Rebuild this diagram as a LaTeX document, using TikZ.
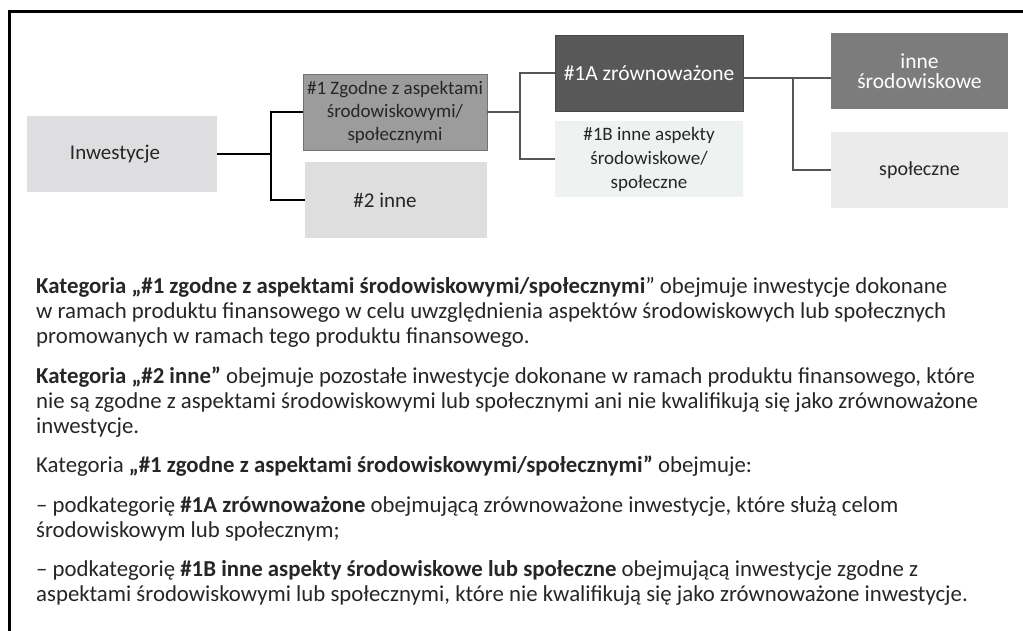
\documentclass[tikz,border=0pt]{standalone}
\usepackage{fontspec}
\setmainfont{Carlito}
\definecolor{inkgray}{HTML}{262626}
\definecolor{rootfill}{HTML}{DEDEE0}
\definecolor{zgfill}{HTML}{9C9C9C}
\definecolor{innefill}{HTML}{DEDEDE}
\definecolor{zrfill}{HTML}{575857}
\definecolor{aspfill}{HTML}{EEF3F1}
\definecolor{srfill}{HTML}{7C7C7C}
\definecolor{spfill}{HTML}{EBEBEB}
\definecolor{linkgray}{HTML}{555555}
\tikzset{
  catbox/.style={rectangle,inner sep=0pt,minimum height=76pt,align=center,text=inkgray},
  link/.style={draw=black,line width=2.5pt},
  sublink/.style={draw=linkgray,line width=2.5pt},
  para/.style={anchor=base west,inner sep=0pt,align=left,text=inkgray,
    font=\fontsize{22.8}{25}\selectfont}
}
\begin{document}
\begin{tikzpicture}[x=1pt,y=-1pt]
  \useasboundingbox (0,0) rectangle (1023,631);
  \fill[white] (0,0) rectangle (1023,631);
  % frame
  \draw[line width=2.5pt] (9.5,640) -- (9.5,11.5) -- (1030,11.5);
  % category boxes
  \begin{scope}[every node/.style={catbox}]
  \node[fill=rootfill,minimum width=190pt,font=\fontsize{21}{24}\selectfont] (inw) at (122,154) {Inwestycje\hspace*{14pt}};
  \node[fill=zgfill,draw=gray!90!black,minimum width=184pt,font=\fontsize{19}{23}\selectfont] (zg) at (395,112) {\#1 Zgodne z aspektami\\środowiskowymi/\\społecznymi};
  \node[fill=innefill,minimum width=182pt,font=\fontsize{21}{24}\selectfont] (inne) at (396,200) {\#2 inne\hspace*{22pt}};
  \node[fill=zrfill,draw=zrfill!80!black,text=white,minimum width=188pt,font=\fontsize{21.5}{24}\selectfont] (zr) at (649,73) {\#1A zrównoważone};
  \node[fill=aspfill,minimum width=188pt,font=\fontsize{19}{24}\selectfont] (asp) at (649,159) {\#1B inne aspekty\\środowiskowe/\\społeczne};
  \node[fill=srfill,text=white,minimum width=177pt,font=\fontsize{21.5}{20}\selectfont] (sr) at (919.5,71) {inne\\środowiskowe};
  \node[fill=spfill,minimum width=177pt,font=\fontsize{20}{24}\selectfont] (sp) at (919.5,170) {społeczne};
  \end{scope}
  % connectors
  \coordinate (j1) at (271,154);
  \coordinate (j2) at (520,112);
  \coordinate (j3) at (793,78);
  \draw[link] (inw.east) -- (j1) |- (zg.west);
  \draw[link] (j1) |- (inne.west);
  \draw[sublink] (zg.east) -- (j2) |- (zr.west);
  \draw[sublink] (j2) |- (asp.west);
  \draw[sublink] ([yshift=-5pt]zr.east) -- (j3) |- ([yshift=-7pt]sr.west);
  \draw[sublink] (j3) |- (sp.west);
  % description (base = last line)
  \node[para] (p1) at (36,343) {\textbf{Kategoria „\#1 zgodne z aspektami środowiskowymi/społecznymi}” obejmuje inwestycje dokonane\\w ramach produktu finansowego w celu uwzględnienia aspektów środowiskowych lub społecznych\\promowanych w ramach tego produktu finansowego.};
  \node[para] (p2) at (36,433) {\textbf{Kategoria „\#2 inne”} obejmuje pozostałe inwestycje dokonane w ramach produktu finansowego, które\\nie są zgodne z aspektami środowiskowymi lub społecznymi ani nie kwalifikują się jako zrównoważone\\inwestycje.};
  \node[para] (p3) at (36,472) {Kategoria \textbf{„\#1 zgodne z aspektami środowiskowymi/społecznymi”} obejmuje:};
  \node[para] (p4) at (36,537) {– podkategorię \textbf{\#1A zrównoważone} obejmującą zrównoważone inwestycje, które służą celom\\środowiskowym lub społecznym;};
  \node[para] (p5) at (36,601) {– podkategorię \textbf{\#1B inne aspekty środowiskowe lub społeczne} obejmującą inwestycje zgodne z\\aspektami środowiskowymi lub społecznymi, które nie kwalifikują się jako zrównoważone inwestycje.};
\end{tikzpicture}
\end{document}
